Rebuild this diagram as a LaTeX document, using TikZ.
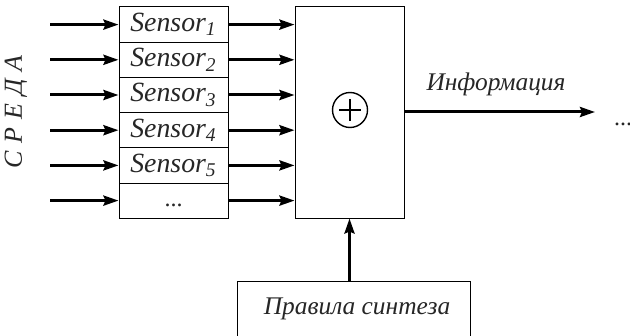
\documentclass[tikz,border=0pt]{standalone}
\usepackage{fontspec}
\setmainfont{Liberation Serif}
\usetikzlibrary{arrows.meta}
\begin{document}
\begin{tikzpicture}[x=0.5pt,y=-0.5pt,
  every node/.style={font=\fontsize{12.7}{14}\selectfont\itshape, text=black!85},
  sfont/.style={font=\fontsize{13.9}{15}\selectfont\itshape},
  sbox/.style={draw, line width=0.5pt, minimum width=54.5pt, minimum height=17.6pt, inner sep=0pt, sfont},
  arr/.style={line width=1.5pt, -{Stealth[length=7.5pt, width=5pt, inset=1pt]}}]
\useasboundingbox (0,0) rectangle (630,336);
\clip (0,0) rectangle (630,336);
% sensors
\foreach \i/\t in {1/{Sensor\textsubscript{1}},2/{Sensor\textsubscript{2}},3/{Sensor\textsubscript{3}},4/{Sensor\textsubscript{4}},5/{Sensor\textsubscript{5}},6/{}} {
  \node[sbox] (s\i) at (173.5, {24.6+(\i-1)*35.2}) {\t};
  \coordinate (in\i) at (50, {24.6+(\i-1)*35.2});
}
\node[font=\fontsize{12}{13}\selectfont] (sdots) at (173.5, 205) {...};
% fusion box
\node[draw, line width=0.5pt, minimum width=54.5pt, minimum height=105.5pt, inner sep=0pt] (fuse) at (349.5,112.5) {};
\node[draw, circle, line width=0.7pt, minimum size=17.5pt, inner sep=0pt] (plus) at (350,110) {};
\draw[line width=1.1pt] ([xshift=-5.5pt]plus.center) -- ([xshift=5.5pt]plus.center)
  ([yshift=-5.5pt]plus.center) -- ([yshift=5.5pt]plus.center);
% arrows
\foreach \i in {1,...,6} {
  \draw[arr] (in\i) -- (s\i.west);
  \draw[arr] (s\i.east) -- (fuse.west |- s\i.east);
}
\coordinate (out) at (595,112);
\draw[arr] (fuse.east |- out) -- (out);
\node (info) at (496,84) {Информация};
\node[font=\fontsize{12}{13}\selectfont] (dots) at (623,124) {...};
% rules box
\node[draw, line width=0.5pt, minimum width=116.5pt, minimum height=50pt, inner sep=0pt] (rules) at (353.5,331) {};
\node (rtext) at (357,309) {Правила синтеза};
\draw[arr] (rules.north -| fuse.south) -- (fuse.south);
% environment label
\node[rotate=90, font=\fontsize{13}{14}\selectfont\itshape] (env) at (16,112) {С\hspace{4pt}Р\hspace{4pt}Е\hspace{4pt}Д\hspace{4pt}А};
\end{tikzpicture}
\end{document}
